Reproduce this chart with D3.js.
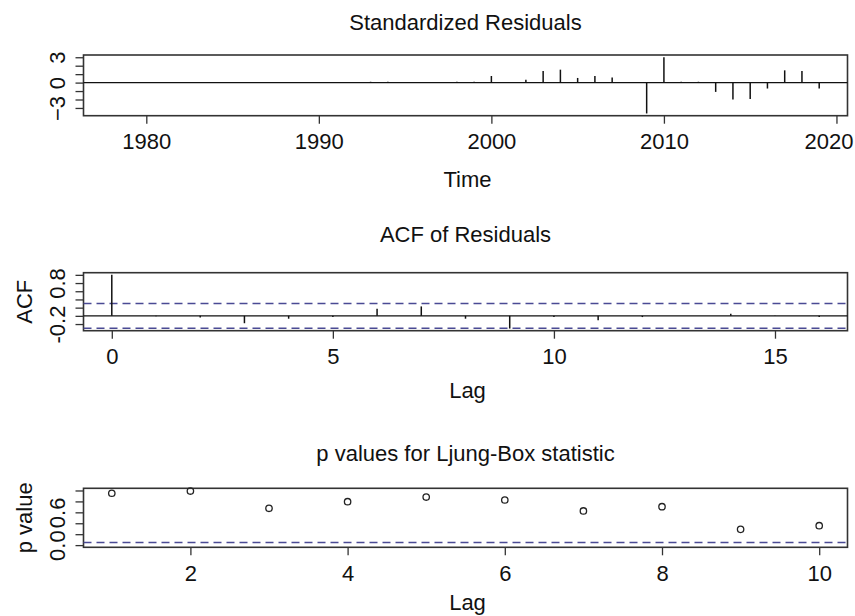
<!DOCTYPE html>
<html>
<head>
<meta charset="utf-8">
<script src="https://cdn.jsdelivr.net/npm/d3@7"></script>
<style>
  html, body { margin: 0; padding: 0; background: #fff; }
  svg { display: block; }
  text { font-family: "Liberation Sans", Arial, sans-serif; fill: #111; }
</style>
</head>
<body>
<svg id="chart" width="855" height="616"></svg>
<script>
// ---------------- DATA ----------------
const years = [1978,1979,1980,1981,1982,1983,1984,1985,1986,1987,1988,1989,1990,1991,1992,
               1993,1994,1995,1996,1997,1998,1999,2000,2001,2002,2003,2004,2005,2006,2007,
               2008,2009,2010,2011,2012,2013,2014,2015,2016,2017,2018,2019];
const stdResiduals = [0,0,0,0,0,0,0,0,0,0,0,0,0,0,0,
                      0.1,0.1,0,0,0,0.1,0.1,0.78,0.02,0.35,1.37,1.53,0.55,0.78,0.59,
                      0.02,-3.65,3.0,0.1,0.1,-1.1,-2.0,-1.93,-0.7,1.45,1.37,-0.7];
const residYTicks = [-3,-2,-1,0,1,2,3];
const residYLabels = [-3,0,3];
const residXTicks = [1980,1990,2000,2010,2020];

const acfLags   = [0,1,2,3,4,5,6,7,8,9,10,11,12,13,14,15,16];
const acfValues = [1.0,-0.01,-0.04,-0.18,-0.07,-0.03,0.17,0.23,-0.07,-0.31,-0.03,-0.11,-0.03,0.0,0.05,0.01,-0.03];
const acfN = 42;
const acfYTicks = [-0.2,0,0.2,0.4,0.6,0.8,1.0];
const acfYLabels = [-0.2,0.8];
const acfXTicks = [0,5,10,15];

const lbLags   = [1,2,3,4,5,6,7,8,9,10];
const pValues  = [0.949,0.99,0.674,0.795,0.88,0.826,0.625,0.703,0.289,0.355];
const pYTicks  = [0,0.2,0.4,0.6,0.8,1.0];
const pYLabels = [0,0.6];
const pXTicks  = [2,4,6,8,10];
const pSignif  = 0.05;

const titles = ["Standardized Residuals", "ACF of Residuals", "p values for Ljung-Box statistic"];
const xTitles = ["Time", "Lag", "Lag"];
const yTitles = ["", "ACF", "p value"];

// ---------------- LAYOUT ----------------
const svg = d3.select("#chart");
const W = 855;
const left = 83.5, right = 847.5;
const FONT = 22;
const boxColor = "#333";
const dashColor = "#4a4a94";

function pad(lo, hi) { const d = (hi - lo) * 0.04; return [lo - d, hi + d]; }

const panels = [
  { top: 55, bottom: 115.7, titleY: 30, xTitleY: 187 },
  { top: 272.7, bottom: 330.7, titleY: 241.7, xTitleY: 397.7 },
  { top: 488.3, bottom: 547.3, titleY: 461, xTitleY: 610 }
];

function fmt(v) {
  if (Number.isInteger(v) && Math.abs(v) >= 1) return String(v);
  return v.toFixed(1);
}

function drawFrame(i, x, y, xTicks, yTicks, yLabels, xFmt, yFmt) {
  const p = panels[i];
  const g = svg.append("g");
  // x axis
  const xa = g.append("g").attr("transform", `translate(0,${p.bottom})`)
    .call(d3.axisBottom(x).tickValues(xTicks).tickSize(8).tickPadding(10).tickFormat(xFmt));
  xa.select(".domain").remove();
  xa.selectAll("line").attr("stroke", boxColor).attr("stroke-width", 1.3);
  xa.selectAll("text").attr("font-size", FONT).attr("fill", "#111")
    .style("font-family", '"Liberation Sans", Arial, sans-serif');
  // keep tick labels inside the page
  xa.selectAll(".tick").each(function(d) {
    const t = d3.select(this).select("text");
    const w = t.node().getComputedTextLength();
    const cx = x(d);
    const over = cx + w / 2 - (W - 2);
    if (over > 0) t.attr("dx", -over);
  });
  // y axis
  const ya = g.append("g").attr("transform", `translate(${left},0)`)
    .call(d3.axisLeft(y).tickValues(yTicks).tickSize(8)
      .tickFormat(v => yLabels.some(l => Math.abs(l - v) < 1e-9) ? yFmt(v) : ""));
  ya.select(".domain").remove();
  ya.selectAll("line").attr("stroke", boxColor).attr("stroke-width", 1.3);
  ya.selectAll("text")
    .attr("x", null).attr("dy", null)
    .attr("text-anchor", "middle")
    .attr("transform", "translate(-19,0) rotate(-90)")
    .attr("font-size", FONT).attr("fill", "#111")
    .style("font-family", '"Liberation Sans", Arial, sans-serif');
  // box
  g.append("rect").attr("x", left).attr("y", p.top)
    .attr("width", right - left).attr("height", p.bottom - p.top)
    .attr("fill", "none").attr("stroke", boxColor).attr("stroke-width", 1.6);
  // titles
  svg.append("text").attr("x", (left + right) / 2).attr("y", p.titleY)
    .attr("text-anchor", "middle").attr("font-size", FONT).text(titles[i]);
  svg.append("text").attr("x", (left + right) / 2 + 2).attr("y", p.xTitleY)
    .attr("text-anchor", "middle").attr("font-size", FONT).text(xTitles[i]);
  if (yTitles[i]) {
    svg.append("text")
      .attr("transform", `translate(32,${(p.top + p.bottom) / 2}) rotate(-90)`)
      .attr("text-anchor", "middle").attr("font-size", FONT).text(yTitles[i]);
  }
}

// ---------- Panel 1: standardized residuals ----------
{
  const p = panels[0];
  const x = d3.scaleLinear().domain(pad(d3.min(years), d3.max(years))).range([left, right]);
  const y = d3.scaleLinear().domain(pad(d3.min(stdResiduals), d3.max(stdResiduals))).range([p.bottom, p.top]);
  drawFrame(0, x, y, residXTicks, residYTicks, residYLabels, d3.format("d"), d3.format("d"));
  svg.append("line").attr("x1", left).attr("x2", right).attr("y1", y(0)).attr("y2", y(0))
    .attr("stroke", "#111").attr("stroke-width", 1.4);
  svg.append("g").selectAll("line").data(years).join("line")
    .attr("x1", (d) => x(d)).attr("x2", (d) => x(d))
    .attr("y1", y(0)).attr("y2", (d, i) => y(stdResiduals[i]))
    .attr("stroke", "#111").attr("stroke-width", 1.5);
}

// ---------- Panel 2: ACF ----------
{
  const p = panels[1];
  const clim = 1.96 / Math.sqrt(acfN);
  const lo = Math.min(-clim, d3.min(acfValues)), hi = Math.max(clim, d3.max(acfValues));
  const x = d3.scaleLinear().domain(pad(d3.min(acfLags), d3.max(acfLags))).range([left, right]);
  const y = d3.scaleLinear().domain(pad(lo, hi)).range([p.bottom, p.top]);
  drawFrame(1, x, y, acfXTicks, acfYTicks, acfYLabels, d3.format("d"), fmt);
  svg.append("line").attr("x1", left).attr("x2", right).attr("y1", y(0)).attr("y2", y(0))
    .attr("stroke", "#111").attr("stroke-width", 1.4);
  [clim, -clim].forEach(c => {
    svg.append("line").attr("x1", left).attr("x2", right).attr("y1", y(c)).attr("y2", y(c))
      .attr("stroke", dashColor).attr("stroke-width", 1.5).attr("stroke-dasharray", "8,5");
  });
  svg.append("g").selectAll("line").data(acfLags).join("line")
    .attr("x1", d => x(d)).attr("x2", d => x(d))
    .attr("y1", y(0)).attr("y2", (d, i) => y(acfValues[i]))
    .attr("stroke", "#111").attr("stroke-width", 1.5);
}

// ---------- Panel 3: Ljung-Box p values ----------
{
  const p = panels[2];
  const x = d3.scaleLinear().domain(pad(d3.min(lbLags), d3.max(lbLags))).range([left, right]);
  const y = d3.scaleLinear().domain(pad(0, 1)).range([p.bottom, p.top]);
  drawFrame(2, x, y, pXTicks, pYTicks, pYLabels, d3.format("d"), fmt);
  svg.append("line").attr("x1", left).attr("x2", right).attr("y1", y(pSignif)).attr("y2", y(pSignif))
    .attr("stroke", dashColor).attr("stroke-width", 1.5).attr("stroke-dasharray", "8,5");
  svg.append("g").selectAll("circle").data(lbLags).join("circle")
    .attr("cx", d => x(d)).attr("cy", (d, i) => y(pValues[i]))
    .attr("r", 3.2).attr("fill", "none").attr("stroke", "#222").attr("stroke-width", 1.3);
}
</script>
</body>
</html>
